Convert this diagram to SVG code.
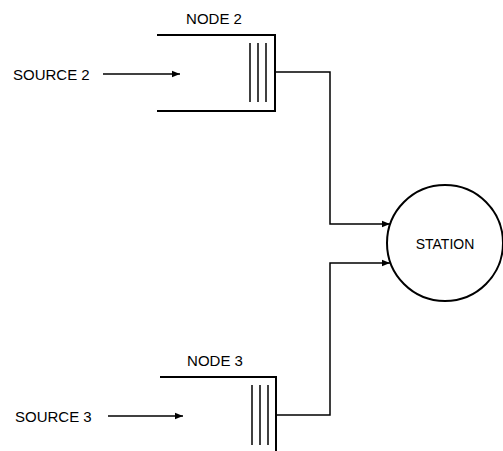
<svg xmlns="http://www.w3.org/2000/svg" width="503" height="451" viewBox="0 0 503 451">
<style>
text{font-family:"Liberation Sans",Arial,sans-serif;font-size:15px;fill:#000}
.box{fill:none;stroke:#000;stroke-width:2}
.bar{stroke:#000;stroke-width:1.5}
.con{fill:none;stroke:#000;stroke-width:1.5}
</style>
<defs>
<marker id="ah" viewBox="0 0 10 10" refX="10" refY="5" markerWidth="8" markerHeight="8" markerUnits="userSpaceOnUse" orient="auto">
<path d="M0,1 L10,5 L0,9 Z" fill="#000"/>
</marker>
</defs>
<rect width="503" height="451" fill="#fff"/>
<g id="source2">
<text x="13" y="80">SOURCE 2</text>
</g>
<g id="node2">
<text x="214" y="24" text-anchor="middle">NODE 2</text>
<path class="box" d="M157,35 H275 V111 H157"/>
<line class="bar" x1="250" y1="43" x2="250" y2="102"/>
<line class="bar" x1="258" y1="43" x2="258" y2="102"/>
<line class="bar" x1="266" y1="43" x2="266" y2="102"/>
</g>
<g id="source3">
<text x="15" y="422">SOURCE 3</text>
</g>
<g id="node3">
<text x="215" y="366" text-anchor="middle">NODE 3</text>
<path class="box" d="M160,377 H276 V451"/>
<line class="bar" x1="252" y1="385" x2="252" y2="445"/>
<line class="bar" x1="260" y1="385" x2="260" y2="445"/>
<line class="bar" x1="268" y1="385" x2="268" y2="445"/>
</g>
<g id="station">
<circle cx="445" cy="243" r="58" fill="none" stroke="#000" stroke-width="2"/>
<text x="445" y="249" text-anchor="middle" font-size="14" style="font-size:14px">STATION</text>
</g>
<g id="connectors">
<line class="con" x1="103" y1="74" x2="180" y2="74" marker-end="url(#ah)"/>
<line class="con" x1="108" y1="416" x2="183" y2="416" marker-end="url(#ah)"/>
<path class="con" d="M275,72 H330 V224 H390" marker-end="url(#ah)"/>
<path class="con" d="M277,415 H330 V263 H390" marker-end="url(#ah)"/>
</g>
</svg>
